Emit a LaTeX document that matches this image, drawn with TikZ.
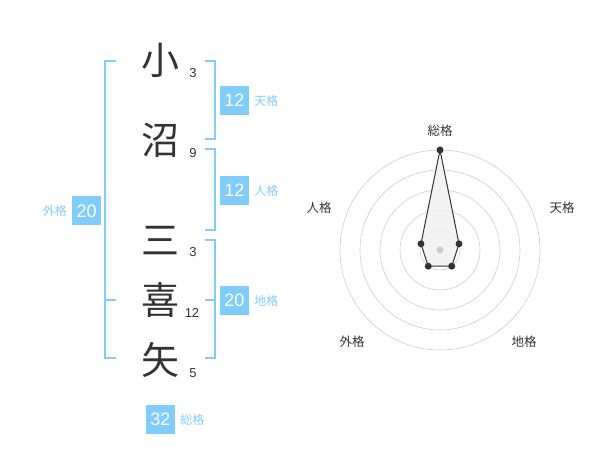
\documentclass[tikz,border=0pt]{standalone}
\usepackage{fontspec}
\setmainfont{Liberation Sans}
\newfontfamily\jp{Noto Sans CJK JP}
\usetikzlibrary{positioning}
\definecolor{kakublue}{RGB}{128,204,250}
\definecolor{inkgray}{RGB}{51,51,51}
\definecolor{ringgray}{RGB}{204,204,204}
\begin{document}
\begin{tikzpicture}[x=1pt,y=-1pt,
    kanji/.style={inner sep=0pt,text=inkgray,font=\jp\fontsize{38}{38}\selectfont},
    strokes/.style={inner sep=0pt,text=inkgray,font=\fontsize{13}{13}\selectfont},
    bracket/.style={draw=kakublue,line width=2pt},
    kakubox/.style={fill=kakublue,text=white,minimum size=29pt,inner sep=0pt,font=\fontsize{18}{18}\selectfont},
    kakuname/.style={inner sep=0pt,text=kakublue,font=\jp\fontsize{12}{12}\selectfont},
    axisname/.style={inner sep=0pt,text=inkgray,font=\jp\fontsize{12.5}{12.5}\selectfont},
    ring/.style={draw=ringgray,line width=0.6pt},
    dot/.style={circle,fill=inkgray,inner sep=0pt,minimum size=7pt}]
    \useasboundingbox (0,0) rectangle (600,470);
    % name, one character per row
    \node[kanji] (c1) at (160,60.5) {小};
    \node[kanji] (c2) at (160,140) {沼};
    \node[kanji] (c3) at (160,241) {三};
    \node[kanji] (c4) at (160,300) {喜};
    \node[kanji] (c5) at (160,360) {矢};
    \node[strokes] (n1) at (193,73) {3};
    \node[strokes] (n2) at (193,153) {9};
    \node[strokes] (n3) at (193,252) {3};
    \node[strokes] (n4) at (192,313) {12};
    \node[strokes] (n5) at (193,373) {5};
    % brackets
    \draw[bracket] (116,60.7) -- (105,60.7) -- (105,358) -- (116,358);
    \draw[bracket] (105,300) -- (116,300);
    \draw[bracket] (205,60.7) -- (215,60.7) -- (215,139.3) -- (205,139.3);
    \draw[bracket] (205,149.3) -- (215,149.3) -- (215,230) -- (205,230);
    \draw[bracket] (205,240) -- (215,240) -- (215,358) -- (205,358);
    \draw[bracket] (205,300) -- (215,300);
    % values
    \node[kakubox] (ten) at (234.5,100.5) {12};
    \node[kakuname,right=5pt of ten] (tenname) {天格};
    \node[kakubox] (jin) at (234.5,190.5) {12};
    \node[kakuname,right=5pt of jin] (jinname) {人格};
    \node[kakubox] (chi) at (234.5,300.5) {20};
    \node[kakuname,right=5pt of chi] (chiname) {地格};
    \node[kakubox] (gai) at (86.7,211) {20};
    \node[kakuname,left=5pt of gai] (gainame) {外格};
    \node[kakubox] (sou) at (160.5,419.5) {32};
    \node[kakuname,right=5pt of sou] (souname) {総格};
    % radar
    \begin{scope}[shift={(440,250)}]
        \foreach \r in {20,40,60,80,100}
            \draw[ring] (0,0) circle[radius=\r];
        \coordinate (rsou) at (-90:100);
        \coordinate (rten) at (-18:20);
        \coordinate (rchi) at (54:20);
        \coordinate (rgai) at (126:20);
        \coordinate (rjin) at (198:20);
        \draw[fill=black!6,fill opacity=0.8,draw=inkgray,line width=1pt,line join=round]
            (rsou) -- (rten) -- (rchi) -- (rgai) -- (rjin) -- cycle;
        \foreach \p in {rsou,rten,rchi,rgai,rjin}
            \node[dot] at (\p) {};
        \node[circle,fill=ringgray,inner sep=0pt,minimum size=7pt] (mid) at (0,0) {};
    \end{scope}
    \node[axisname] (asou) at (440,131) {総格};
    \node[axisname] (aten) at (562,208) {天格};
    \node[axisname] (ajin) at (319,208) {人格};
    \node[axisname] (achi) at (524,342) {地格};
    \node[axisname] (agai) at (352,342) {外格};
\end{tikzpicture}
\end{document}
